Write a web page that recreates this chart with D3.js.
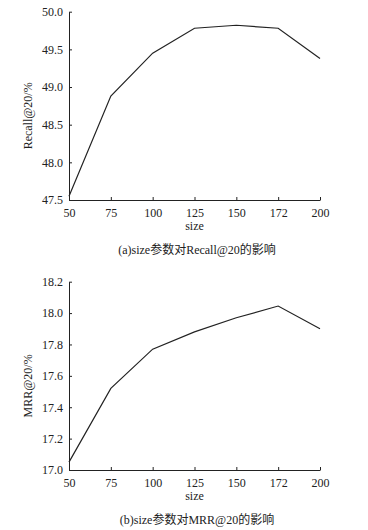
<!DOCTYPE html>
<html><head><meta charset="utf-8">
<script src="https://cdn.jsdelivr.net/npm/d3@7"></script>
<style>
body{margin:0;background:#fff;}
svg text{font-family:"Liberation Serif","Noto Sans CJK SC",serif;fill:#222;}
</style></head>
<body><svg id="c" width="368" height="530"></svg>
<script>
const sizes = ["50","75","100","125","150","172","200"];
const recall = [47.55, 48.88, 49.45, 49.78, 49.82, 49.78, 49.38];
const mrr = [17.05, 17.52, 17.77, 17.88, 17.97, 18.045, 17.90];
const recallTicks = [47.5, 48.0, 48.5, 49.0, 49.5, 50.0];
const mrrTicks = [17.0, 17.2, 17.4, 17.6, 17.8, 18.0, 18.2];

const svg = d3.select("#c");

function panel(top, bottom, values, ticks, yLabel, caption) {
  const left = 69, right = 320;
  const g = svg.append("g");
  const x = d3.scalePoint().domain(sizes).range([left, right]);
  const y = d3.scaleLinear().domain([ticks[0], ticks[ticks.length-1]]).range([bottom, top]);

  const xa = g.append("g").attr("transform", `translate(0,${bottom})`)
    .call(d3.axisBottom(x).tickSize(-3).tickSizeOuter(0).tickPadding(8));
  const ya = g.append("g").attr("transform", `translate(${left},0)`)
    .call(d3.axisLeft(y).tickValues(ticks).tickFormat(d3.format(".1f")).tickSize(-3).tickSizeOuter(0).tickPadding(6));
  [xa, ya].forEach(a => {
    a.select(".domain").attr("stroke", "#222").attr("stroke-width", 1);
    a.selectAll(".tick line").attr("stroke", "#222");
    a.selectAll("text").attr("font-size", 12).attr("fill", "#222");
  });

  g.append("path").datum(values)
    .attr("fill", "none").attr("stroke", "#222").attr("stroke-width", 1.2)
    .attr("d", d3.line().x((d, i) => x(sizes[i])).y(d => y(d)));

  g.append("text").attr("x", (left + right) / 2).attr("y", bottom + 30)
    .attr("text-anchor", "middle").attr("font-size", 12).text("size");

  const cy = (top + bottom) / 2 + 10;
  g.append("text").attr("transform", `translate(32,${cy}) rotate(-90)`)
    .attr("text-anchor", "middle").attr("font-size", 12).text(yLabel);

  g.append("text").attr("x", 197).attr("y", bottom + 54)
    .attr("text-anchor", "middle").attr("font-size", 12).text(caption);
}

panel(11.7, 200, recall, recallTicks, "Recall@20/%", "(a)size参数对Recall@20的影响");
panel(281.7, 470, mrr, mrrTicks, "MRR@20/%", "(b)size参数对MRR@20的影响");
</script></body></html>
